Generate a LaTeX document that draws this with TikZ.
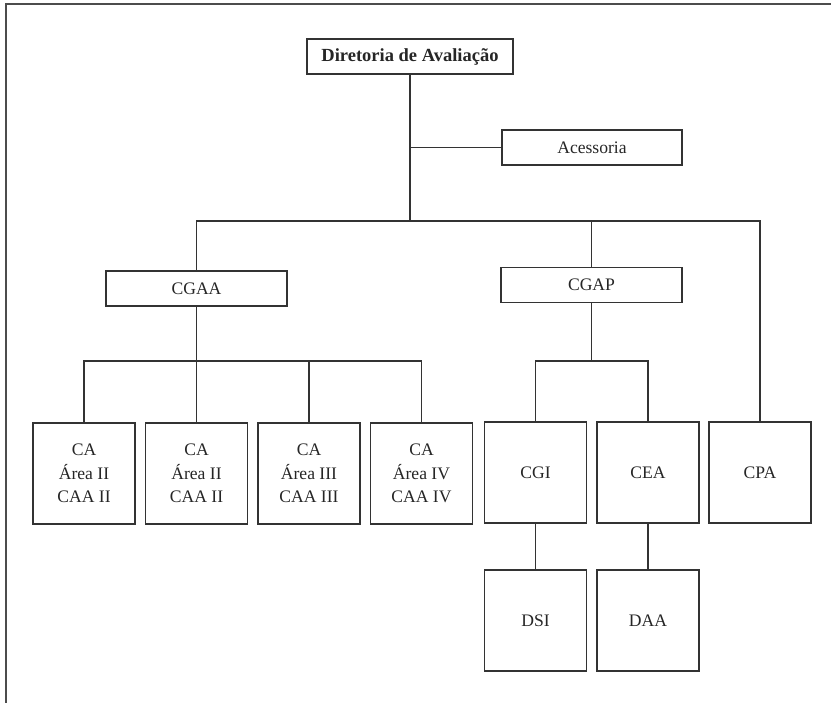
\documentclass[tikz,border=0pt]{standalone}
\usepackage{fontspec}
\setmainfont{Liberation Serif}
\begin{document}
\begin{tikzpicture}[x=1pt,y=-1pt,
  box/.style={draw=black!80,line width=1.3pt,text=black!85,inner sep=0pt,align=center,
    font=\fontsize{17.6}{23.7}\selectfont},
  wide/.style={box,minimum width=181pt,minimum height=35pt},
  sq/.style={box,minimum width=102pt,minimum height=101pt},
  link/.style={draw=black!80,line width=1.3pt}]
\useasboundingbox (0,0) rectangle (831,703);
\draw[draw=black!70,line width=2pt] (6.3,703) -- (6.3,4.5) -- (831,4.5);
\node[box,minimum width=206pt,minimum height=35pt,font=\fontsize{18.5}{23.7}\selectfont\bfseries] (dir) at (410,56.5) {Diretoria de Avaliação};
\node[box,minimum width=180pt,minimum height=35pt] (acc) at (592,147.5) {Acessoria};
\node[wide] (cgaa) at (196.5,288.5) {CGAA};
\node[wide] (cgap) at (591.5,285) {CGAP};
\node[sq] (ca1) at (84,473.5) {CA\\Área II\\CAA II};
\node[sq] (ca2) at (196.5,473.5) {CA\\Área II\\CAA II};
\node[sq] (ca3) at (309,473.5) {CA\\Área III\\CAA III};
\node[sq] (ca4) at (421.5,473.5) {CA\\Área IV\\CAA IV};
\node[sq] (cgi) at (535.5,472.5) {CGI};
\node[sq] (cea) at (648,472.5) {CEA};
\node[sq] (cpa) at (760,472.5) {CPA};
\node[sq] (dsi) at (535.5,620.5) {DSI};
\node[sq] (daa) at (648,620.5) {DAA};
\coordinate (top) at (410,221);
\coordinate (ja) at (196.5,361);
\coordinate (jp) at (591.5,361);
\draw[link] (dir.south) -- (top);
\draw[link] (acc.west) -- (acc.west -| dir.south);
\draw[link] (cgaa.north) |- (top) -| (cpa.north);
\draw[link] (cgap.north) -- (cgap.north |- top);
\draw[link] (cgaa.south) -- (ja);
\draw[link] (ca1.north) |- (ja) -| (ca4.north);
\draw[link] (ca2.north) -- (ja);
\draw[link] (ca3.north) -- (ca3.north |- ja);
\draw[link] (cgap.south) -- (jp);
\draw[link] (cgi.north) |- (jp) -| (cea.north);
\draw[link] (cgi.south) -- (dsi.north);
\draw[link] (cea.south) -- (daa.north);
\end{tikzpicture}
\end{document}
